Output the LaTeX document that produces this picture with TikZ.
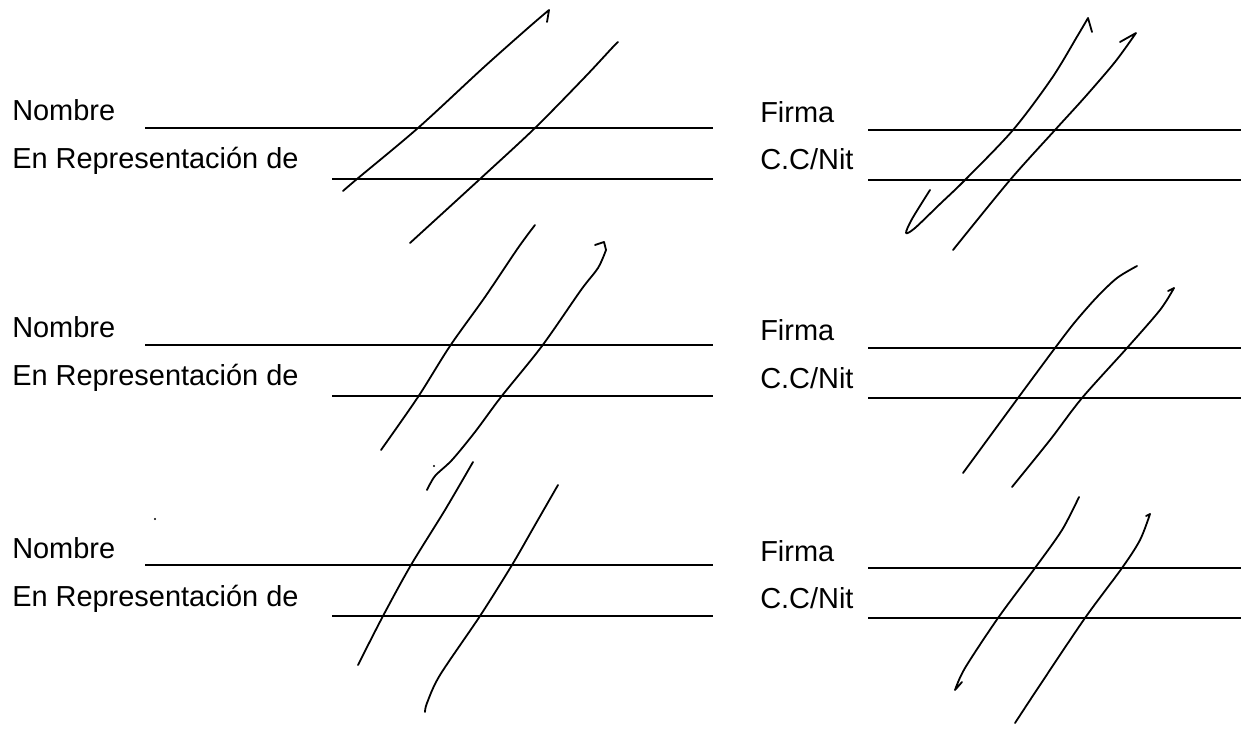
\documentclass[tikz,border=0pt]{standalone}
\usepackage{fontspec}
\setmainfont{Liberation Sans}
\begin{document}
\begin{tikzpicture}[x=0.75pt,y=-0.75pt,
  lbl/.style={anchor=base west, inner sep=0pt, font=\fontsize{21.7}{26}\selectfont},
  formline/.style={line width=0.9pt},
  ink/.style={line width=1.35pt, line cap=round, line join=round},
  speck/.style={fill=black}]
\fill[white] (0,0) rectangle (1241,730);
\useasboundingbox (0,0) rectangle (1241,730);

% form rows: left line1 / left line2 / right line1 / right line2
\foreach \a/\b/\c/\d [count=\i] in {128/179/130/180, 345/396/348/398, 565/616/568/618}{
  \node[lbl] (nom\i) at (12,\a-7) {Nombre};
  \node[lbl] (rep\i) at (12,\b-10) {En Representación de};
  \node[lbl] (fir\i) at (760,\c-7) {Firma};
  \node[lbl] (cc\i) at (760,\d-10) {C.C/Nit};
  \coordinate (na\i) at (145,\a); \coordinate (nb\i) at (713,\a);
  \coordinate (ra\i) at (332,\b); \coordinate (rb\i) at (713,\b);
  \coordinate (fa\i) at (868,\c); \coordinate (fb\i) at (1241,\c);
  \coordinate (ca\i) at (868,\d); \coordinate (cb\i) at (1241,\d);
  \draw[formline] (na\i) -- (nb\i);
  \draw[formline] (ra\i) -- (rb\i);
  \draw[formline] (fa\i) -- (fb\i);
  \draw[formline] (ca\i) -- (cb\i);
}

% row 1, left signature strokes
\draw[ink] plot[smooth,tension=0.5] coordinates {(343,191) (357,179) (418,128) (483,68) (528,28) (549,10)} -- (547,22);
\draw[ink] plot[smooth,tension=0.5] coordinates {(410,243) (480,179) (535,128) (585,77) (612,48) (618,42)};
% row 1, right
\draw[ink] plot[smooth,tension=0.5] coordinates {(930,190) (912,219) (906,233) (915,228) (940,204) (965,180) (1013,130) (1052,78) (1078,35) (1088,18)} -- (1092,32);
\draw[ink] (1120,42) -- (1136,33) plot[smooth,tension=0.5] coordinates {(1136,33) (1115,62) (1085,97) (1055,130) (1010,180) (953,250)};

% row 2, left
\draw[ink] plot[smooth,tension=0.5] coordinates {(535,225) (518,248) (485,297) (450,346) (418,397) (381,450)};
\draw[ink] (595,245) -- (604,242) -- (606,250) plot[smooth,tension=0.5] coordinates {(606,250) (598,268) (581,290) (542,346) (501,397) (475,432) (452,460) (435,476) (427,490)};
% row 2, right
\draw[ink] plot[smooth,tension=0.5] coordinates {(1137,266) (1117,278) (1097,297) (1075,322) (1055,348) (1018,398) (963,473)};
\draw[ink] (1168,291) -- (1174,288) plot[smooth,tension=0.5] coordinates {(1174,288) (1160,310) (1127,348) (1082,398) (1050,440) (1012,487)};

% row 3, left
\draw[ink] plot[smooth,tension=0.5] coordinates {(473,462) (445,510) (411,565) (383,616) (358,665)};
\draw[ink] plot[smooth,tension=0.5] coordinates {(558,485) (535,525) (512,565) (480,616) (440,675) (427,703) (425,712)};
% row 3, right
\draw[ink] plot[smooth,tension=0.5] coordinates {(1079,497) (1062,530) (1035,568) (998,618) (965,668) (955,690)} -- (962,682);
\draw[ink] (1146,516) -- (1150,514) plot[smooth,tension=0.5] coordinates {(1150,514) (1140,540) (1122,568) (1085,618) (1040,685) (1015,723)};

% specks
\fill[speck] (155,519) circle (1.2);
\fill[speck] (434,466) circle (1.2);
\end{tikzpicture}
\end{document}
